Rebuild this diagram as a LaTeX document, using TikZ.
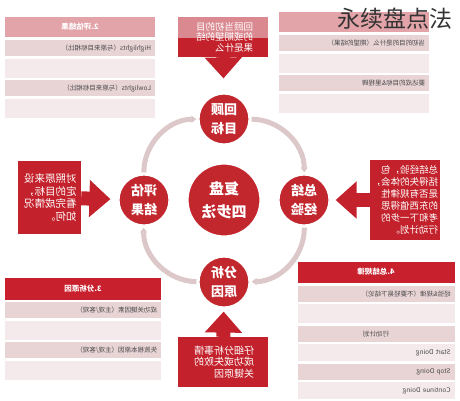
\documentclass[tikz,border=0pt]{standalone}
\usepackage{fontspec}
\setmainfont{Noto Sans CJK SC}
\usetikzlibrary{arrows.meta, positioning}

\definecolor{boxred}{HTML}{C3212B}
\definecolor{circred}{HTML}{C1272D}
\definecolor{boxpink}{HTML}{DA8990}
\definecolor{pinkhead}{HTML}{E3A4A9}
\definecolor{redhead}{HTML}{C8202D}
\definecolor{rowdark}{HTML}{E8D3D5}
\definecolor{rowlight}{HTML}{F4EAEB}
\definecolor{rowtext}{HTML}{4A4A4A}
\definecolor{ringgray}{HTML}{DCC7C9}
\definecolor{titlegray}{HTML}{333333}

\begin{document}
\begin{tikzpicture}[
  x=1pt, y=-1pt,
  mirror/.style={xscale=-1},
  head/.style={mirror, text width=150pt, align=center, minimum height=20pt, inner sep=0pt, text=white, font=\bfseries\fontsize{7.5}{9}\selectfont},
  row/.style={mirror, text width=142pt, inner xsep=4pt, inner ysep=0pt, align=left, text=rowtext, font=\fontsize{6.5}{8}\selectfont},
  dark/.style={row, fill=rowdark, minimum height=16pt},
  light/.style={row, fill=rowlight, minimum height=19pt},
  note/.style={mirror, fill=boxred, text=white, inner sep=0pt, align=left},
  stepcirc/.style={mirror, circle, fill=circred, draw=white, line width=1.2pt, minimum size=50pt, inner sep=0pt, text=white, align=center, font=\bfseries\fontsize{13}{19}\selectfont},
  blockarrow/.style={-{Triangle[width=36pt, length=21pt]}, line width=14pt, draw=boxred},
  ringarc/.style={-{Triangle[width=7pt, length=5pt]}, line width=5pt, draw=ringgray, shorten <=2pt, shorten >=2pt}
  ]
\useasboundingbox (0,0) rectangle (460,400);

% Panels
\node[head, fill=pinkhead] (evalhead) at (80,27) {2.评估结果};
\node[dark, below=3pt of evalhead] (evalhigh) {Highlights（与原来目标相比）};
\node[light, below=2pt of evalhigh] (evalgapa) {};
\node[dark, below=2pt of evalgapa] (evallow) {Lowlights（与原来目标相比）};
\node[light, below=2pt of evallow] (evalgapb) {};

\node[head, fill=pinkhead] (goalhead) at (354,22) {};
\node[dark, below=3pt of goalhead] (goalwhat) {当初的目的是什么（期望的结果）};
\node[light, below=2pt of goalwhat] (goalgapa) {};
\node[dark, below=2pt of goalgapa] (goalmile) {要达成的目标\&里程碑};
\node[light, below=2pt of goalmile] (goalgapb) {};

\node[head, fill=redhead, text width=156pt, minimum height=22pt] (causehead) at (83,289) {3.分析原因};
\node[dark, text width=148pt, below=2pt of causehead] (causewin) {成功关键因素（主观/客观）};
\node[light, text width=148pt, below=2pt of causewin] (causegapa) {};
\node[dark, text width=148pt, below=2pt of causegapa] (causefail) {失败根本原因（主观/客观）};
\node[light, text width=148pt, below=2pt of causefail] (causegapb) {};

\node[head, fill=redhead, text width=157pt, minimum height=21pt] (rulehead) at (376,272) {4.总结规律};
\node[dark, text width=149pt, below=3pt of rulehead] (rulelaw) {经验\&规律（不要轻易下结论）};
\node[light, text width=149pt, below=2pt of rulelaw] (rulegap) {};
\node[dark, text width=149pt, align=center, below=2pt of rulegap] (ruleplan) {行动计划};
\node[light, text width=149pt, minimum height=17pt, below=2pt of ruleplan] (rulestart) {Start Doing};
\node[dark, text width=149pt, below=2pt of rulestart] (rulestop) {Stop Doing};
\node[light, text width=149pt, minimum height=17pt, below=2pt of rulestop] (rulecont) {Continue Doing};

\node[text=titlegray, font=\fontsize{23}{23}\selectfont] (title) at (395,19) {永续盘点法};

% Notes
\node[note, minimum width=90pt, minimum height=40pt, text width=60pt, font=\fontsize{9.5}{10.5}\selectfont,
  path picture={\fill[boxpink] (path picture bounding box.north west) rectangle ([yshift=-21pt]path picture bounding box.north east);}]
  (reviewnote) at (223,37) {回顾当初的目\\的或期望的结\\果是什么};
\node[note, minimum width=63pt, minimum height=73pt, text width=54pt, font=\fontsize{10.5}{12.5}\selectfont] (evalnote) at (49.5,197.5) {对照原来设\\定的目标，\\看完成情况\\如何。};
\node[note, minimum width=70pt, minimum height=80pt, text width=66pt, font=\fontsize{9.5}{12}\selectfont] (sumnote) at (405,200) {总结经验，包\\括得失的体会，\\是否有规律性\\的东西值得思\\考和下一步的\\行动计划。};
\node[note, minimum width=90pt, minimum height=50pt, text width=62pt, font=\fontsize{10}{11.5}\selectfont] (causenote) at (223,362) {仔细分析事情\\成功或失败的\\关键原因};

% Circles
\node[stepcirc, minimum size=72pt, font=\bfseries\fontsize{15}{23}\selectfont] (core) at (224,200) {复盘\\四步法};
\node[stepcirc] (review) at (224,119) {回顾\\目标};
\node[stepcirc] (evaluate) at (144,200) {评估\\结果};
\node[stepcirc] (summary) at (304,200) {总结\\经验};
\node[stepcirc] (analyze) at (224,282) {分析\\原因};

% Ring
\draw[ringarc] (review) to[bend left=45] (summary);
\draw[ringarc] (summary) to[bend left=45] (analyze);
\draw[ringarc] (analyze) to[bend left=45] (evaluate);
\draw[ringarc] (evaluate) to[bend left=45] (review);

% Arrows
\draw[blockarrow, shorten >=15pt] (reviewnote) -- (review);
\draw[blockarrow, shorten >=8pt] (evalnote) -- (evaluate);
\draw[blockarrow, shorten >=6pt] (sumnote) -- (summary);
\draw[blockarrow, shorten >=4pt] (causenote) -- (analyze);

\end{tikzpicture}
\end{document}
